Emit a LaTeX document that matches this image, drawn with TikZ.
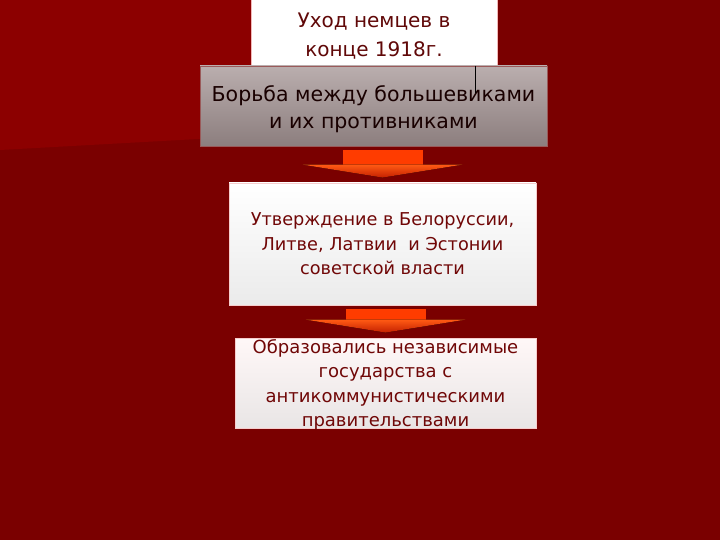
\documentclass[tikz,border=0pt]{standalone}
\usepackage{fontspec}
\setmainfont{DejaVu Sans}
\usetikzlibrary{calc}

\definecolor{bgdark}{HTML}{7A0000}
\definecolor{bglight}{HTML}{8C0000}
\definecolor{boxpink}{HTML}{F2B8B8}
\definecolor{greyline}{HTML}{9A5A5A}
\definecolor{txtred}{HTML}{600808}
\definecolor{greytop}{HTML}{BAAEAE}
\definecolor{greybot}{HTML}{8C7E7E}
\definecolor{arrowred}{HTML}{FF3C00}
\definecolor{headtop}{HTML}{FF5A14}
\definecolor{headbot}{HTML}{C42000}

% block arrow from one box down to the next
\newcommand{\flowarrow}[2]{%
  \coordinate (shafttop) at ($(#1.south -| #2.north)+(0,4)$);
  \coordinate (tip) at ($(#2.north)+(0,-5)$);
  \fill[arrowred] ($(shafttop)+(-40,0)$) rectangle ($(tip)+(40,-13)$);
  \fill[top color=headtop, bottom color=headbot]
    ($(tip)+(-80,-13)$) -- ($(tip)+(80,-13)$) -- (tip) -- cycle;
}

\begin{document}
\begin{tikzpicture}[x=1pt,y=-1pt,
  box/.style={rectangle, inner sep=0pt, align=center, line width=0.8pt}]

\useasboundingbox (0,0) rectangle (720,540);
\fill[bgdark] (0,0) rectangle (720,540);
\fill[bglight] (0,0) -- (252,0) -- (252,136) -- (0,150) -- cycle;

\node[box, fill=white, draw=boxpink, minimum width=246, minimum height=74,
  text=txtred, font=\fontsize{20}{28.5}\selectfont] (leave) at (374,36)
  {Уход немцев в\\конце 1918г.};

\node[box, top color=greytop, bottom color=greybot, draw=greyline,
  minimum width=347, minimum height=80] (fight) at (373.5,106) {};
\node[box, text=black!90!red, font=\fontsize{20.5}{27}\selectfont]
  (fighttext) at ($(fight.center)+(0,3)$)
  {Борьба между большевиками\\и их противниками};
\draw[line width=0.6pt] ($(fight.north west)+(276,0)$) -- ++(0,27);

\node[box, top color=white, bottom color=black!8, draw=boxpink!70,
  minimum width=307, minimum height=122, text=txtred!90!red,
  font=\fontsize{17.7}{24.5}\selectfont] (state) at (382.5,244)
  {Утверждение в Белоруссии,\\Литве, Латвии~ и Эстонии\\советской власти};

\node[box, top color=red!3, bottom color=red!12!black!10, draw=boxpink!70,
  minimum width=301, minimum height=90] (result) at (385.5,383) {};
\node[box, text=txtred!90!red, font=\fontsize{18}{24.5}\selectfont]
  (resulttext) at ($(result.center)+(0,2)$)
  {Образовались независимые\\государства с\\антикоммунистическими\\правительствами};

\flowarrow{fight}{state}
\flowarrow{state}{result}
\end{tikzpicture}
\end{document}
